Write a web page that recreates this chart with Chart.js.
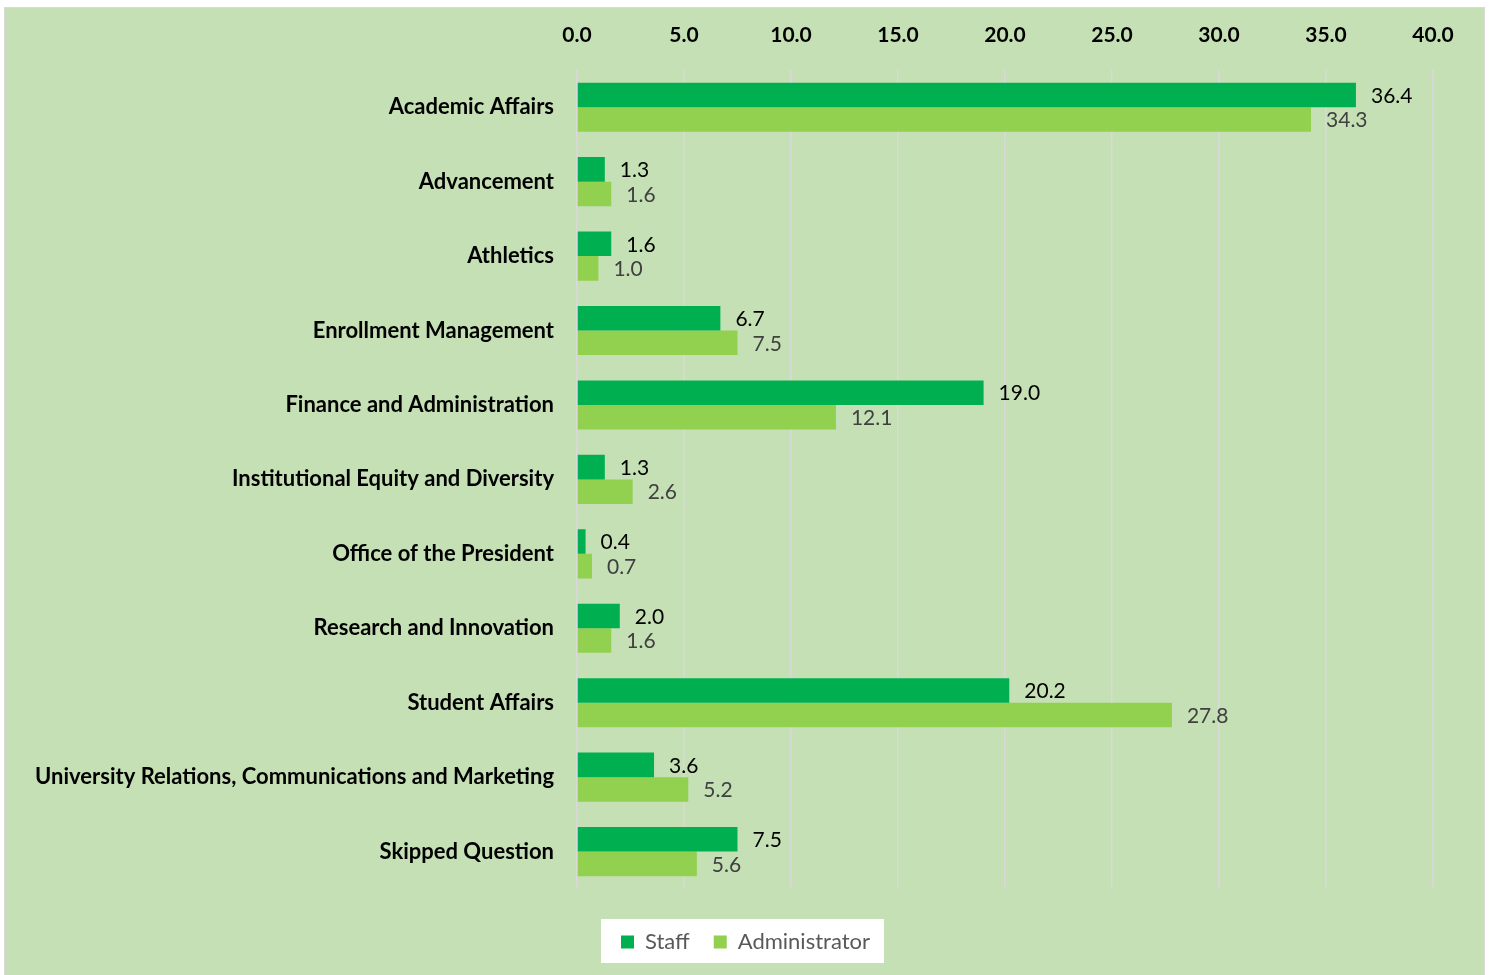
<!DOCTYPE html>
<html>
<head>
<meta charset="utf-8">
<script src="https://cdn.jsdelivr.net/npm/chart.js@4"></script>
<style>
  body { margin: 0; background: #ffffff; }
  #wrap { width: 1491px; height: 975px; }
</style>
</head>
<body>
<div id="wrap"><canvas id="deptChart"></canvas></div>
<script>
var departments = ['Academic Affairs', 'Advancement', 'Athletics', 'Enrollment Management',
  'Finance and Administration', 'Institutional Equity and Diversity', 'Office of the President',
  'Research and Innovation', 'Student Affairs',
  'University Relations, Communications and Marketing', 'Skipped Question'];
var staffPct = [36.4, 1.3, 1.6, 6.7, 19.0, 1.3, 0.4, 2.0, 20.2, 3.6, 7.5];
var adminPct = [34.3, 1.6, 1.0, 7.5, 12.1, 2.6, 0.7, 1.6, 27.8, 5.2, 5.6];
var xTicks = [0, 5, 10, 15, 20, 25, 30, 35, 40];

var FONT = 'Lato, "Open Sans", sans-serif';

// green panel plus the white box behind the legend
var panelBg = {
  id: 'panelBg',
  afterLayout: function(chart) {
    // centre the legend on the whole panel, not just the padded area
    chart.legend.left += 29;
    chart.legend.right += 29;
  },
  beforeDraw: function(chart) {
    var c = chart.ctx;
    c.save();
    c.fillStyle = '#c5e0b4';
    c.fillRect(5, 8, 1479, 967);
    c.strokeStyle = '#d9d9d9';
    c.lineWidth = 1;
    c.strokeRect(4.5, 7.5, 1480, 968);
    var boxes = chart.legend.legendHitBoxes;
    if (boxes && boxes.length) {
      var first = boxes[0], last = boxes[boxes.length - 1];
      var cy = first.top + first.height / 2;
      c.fillStyle = '#ffffff';
      c.fillRect(first.left - 20, cy - 23, (last.left + last.width) - first.left + 34, 44);
    }
    c.restore();
  }
};

// value labels at the end of each bar
var barValues = {
  id: 'barValues',
  afterDatasetsDraw: function(chart) {
    var c = chart.ctx;
    c.save();
    c.font = '21px ' + FONT;
    c.textAlign = 'left';
    c.textBaseline = 'middle';
    chart.data.datasets.forEach(function(ds, i) {
      c.fillStyle = i === 0 ? '#000000' : '#404040';
      chart.getDatasetMeta(i).data.forEach(function(bar, j) {
        c.fillText(ds.data[j].toFixed(1), bar.x + 15, bar.y + 1);
      });
    });
    c.restore();
  }
};

new Chart(document.getElementById('deptChart'), {
  type: 'bar',
  data: {
    labels: departments,
    datasets: [{
      label: 'Staff',
      data: staffPct,
      backgroundColor: '#00b050',
      categoryPercentage: 0.66,
      barPercentage: 1
    }, {
      label: 'Administrator',
      data: adminPct,
      backgroundColor: '#92d050',
      categoryPercentage: 0.66,
      barPercentage: 1
    }]
  },
  options: {
    indexAxis: 'y',
    responsive: true,
    maintainAspectRatio: false,
    animation: false,
    layout: { padding: { left: 0, right: 58, top: 0, bottom: 12 } },
    scales: {
      x: {
        position: 'top',
        min: 0,
        max: 40,
        afterBuildTicks: function(s) { s.ticks = xTicks.map(function(v) { return { value: v }; }); },
        afterFit: function(s) { s.height = 70; },
        ticks: {
          padding: 22,
          color: '#000000',
          font: { family: FONT, size: 21, weight: 'bold' },
          callback: function(v) { return Number(v).toFixed(1); }
        },
        grid: { color: '#d9d9d9', lineWidth: 1.5, drawTicks: false },
        border: { display: false }
      },
      y: {
        afterFit: function(s) { s.width = 577; },
        ticks: {
          padding: 23,
          color: '#000000',
          font: { family: FONT, size: 22, weight: 'bold' }
        },
        grid: { display: false, drawTicks: false },
        border: { display: false }
      }
    },
    plugins: {
      legend: {
        position: 'bottom',
        title: { display: true, text: ' ', font: { size: 1 }, padding: { top: 0, bottom: 17 } },
        labels: {
          boxWidth: 13,
          boxHeight: 13,
          padding: 24,
          color: '#595959',
          font: { family: FONT, size: 22 }
        }
      },
      tooltip: { enabled: false }
    }
  },
  plugins: [panelBg, barValues]
});
</script>
</body>
</html>
